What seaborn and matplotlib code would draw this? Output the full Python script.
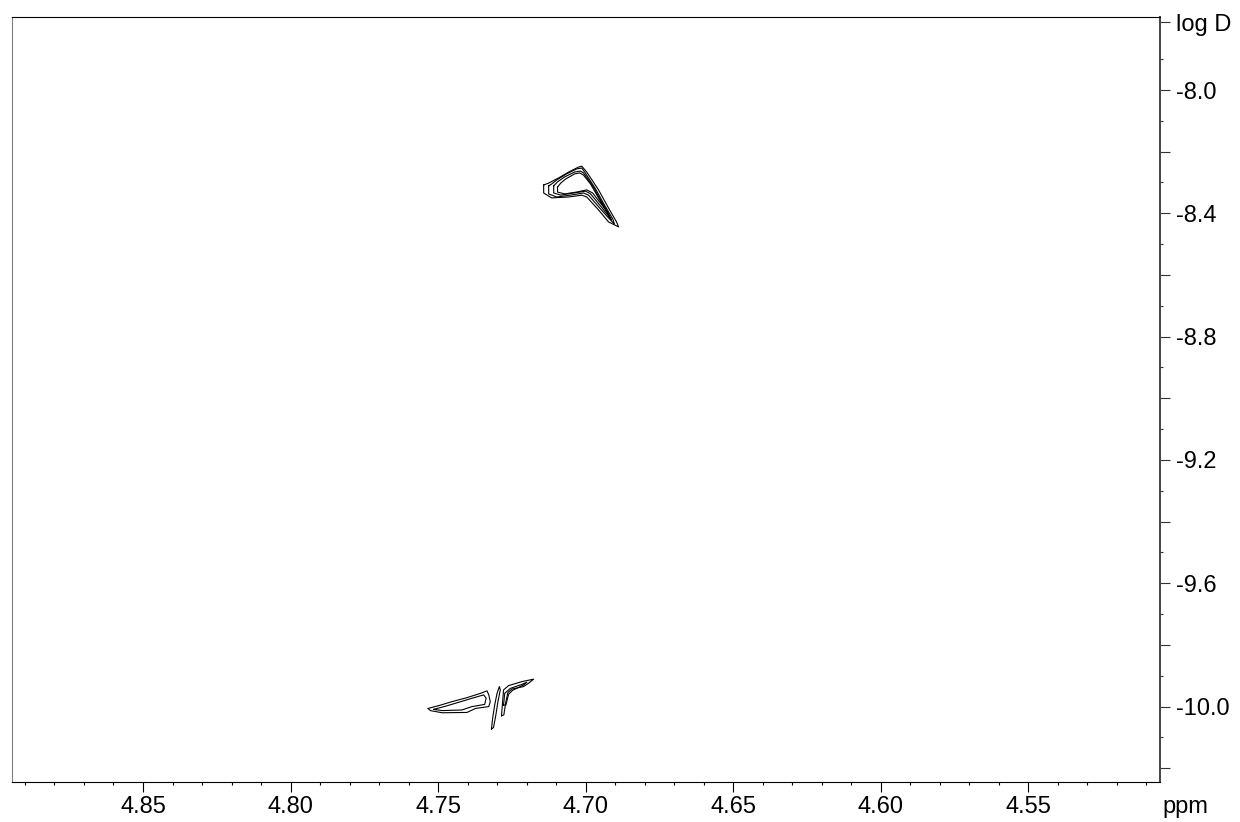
import numpy as np
import pandas as pd
import matplotlib
matplotlib.use("Agg")
import matplotlib.pyplot as plt
from matplotlib.ticker import MultipleLocator, FixedLocator, FixedFormatter
import seaborn as sns

# traced contour outlines of the DOSY peaks (chemical shift in ppm, log D)
upper_c1_ppm = [4.7142, 4.7142, 4.7115, 4.7057, 4.7013, 4.6996, 4.6956, 4.6922, 4.6888,
                4.6895, 4.6922, 4.6956, 4.6996, 4.7013, 4.7024, 4.7057, 4.7091, 4.7125]
upper_c1_logd = [-8.308, -8.334, -8.350, -8.347, -8.341, -8.347, -8.389, -8.428, -8.444,
                 -8.428, -8.383, -8.324, -8.266, -8.247, -8.250, -8.266, -8.285, -8.302]
upper_c2_ppm = [4.7125, 4.7125, 4.7098, 4.7051, 4.7007, 4.6990, 4.6949, 4.6919, 4.6902,
                4.6908, 4.6936, 4.6966, 4.7003, 4.7013, 4.7030, 4.7064, 4.7098, 4.7115]
upper_c2_logd = [-8.311, -8.337, -8.347, -8.341, -8.334, -8.341, -8.386, -8.418, -8.435,
                 -8.418, -8.373, -8.321, -8.266, -8.253, -8.256, -8.272, -8.292, -8.305]
upper_c3_ppm = [4.7108, 4.7108, 4.7084, 4.7040, 4.7000, 4.6983, 4.6946, 4.6922, 4.6912,
                4.6922, 4.6949, 4.6976, 4.7007, 4.7017, 4.7037, 4.7071, 4.7095]
upper_c3_logd = [-8.311, -8.334, -8.341, -8.334, -8.328, -8.337, -8.380, -8.409, -8.422,
                 -8.402, -8.357, -8.311, -8.269, -8.263, -8.266, -8.282, -8.298]
upper_c4_ppm = [4.7095, 4.7095, 4.7071, 4.7030, 4.6996, 4.6976, 4.6942, 4.6925, 4.6919,
                4.6929, 4.6956, 4.6983, 4.7007, 4.7020, 4.7037, 4.7068, 4.7084]
upper_c4_logd = [-8.315, -8.331, -8.337, -8.331, -8.324, -8.334, -8.376, -8.399, -8.412,
                 -8.392, -8.350, -8.305, -8.276, -8.269, -8.272, -8.289, -8.302]

wedge_c1_ppm = [4.7534, 4.7498, 4.7453, 4.7402, 4.7356, 4.7334, 4.7328, 4.7323, 4.7328,
                4.7373, 4.7402, 4.7486, 4.7526]
wedge_c1_logd = [-10.006, -9.997, -9.984, -9.971, -9.957, -9.949, -9.962, -9.984, -10.000,
                 -10.006, -10.019, -10.020, -10.013]
wedge_c2_ppm = [4.7515, 4.7475, 4.7430, 4.7385, 4.7345, 4.7337, 4.7342, 4.7385, 4.7419, 4.7486]
wedge_c2_logd = [-10.009, -9.999, -9.986, -9.973, -9.962, -9.973, -9.993, -10.000, -10.011, -10.013]
stroke_ppm = [4.7319, 4.7315, 4.7308, 4.7300, 4.7292, 4.7289, 4.7297, 4.7304, 4.7312]
stroke_logd = [-10.073, -10.038, -9.995, -9.957, -9.935, -9.946, -9.984, -10.027, -10.068]
flag_c1_ppm = [4.7285, 4.7281, 4.7278, 4.7261, 4.7216, 4.7176, 4.7193, 4.7210, 4.7249,
               4.7263, 4.7270, 4.7277]
flag_c1_logd = [-10.030, -9.984, -9.946, -9.932, -9.919, -9.911, -9.924, -9.935, -9.943,
                -9.954, -9.984, -10.027]
flag_c2_ppm = [4.7278, 4.7274, 4.7255, 4.7216, 4.7199, 4.7210, 4.7247, 4.7261, 4.7270]
flag_c2_logd = [-9.995, -9.957, -9.941, -9.928, -9.921, -9.930, -9.947, -9.960, -9.995]

x_ticks = [4.85, 4.80, 4.75, 4.70, 4.65, 4.60, 4.55]
y_ticks = [-10.2, -10.0, -9.8, -9.6, -9.4, -9.2, -9.0, -8.8, -8.6, -8.4, -8.2, -8.0, -7.78]
y_tick_labels = ["", "-10.0", "", "-9.6", "", "-9.2", "", "-8.8", "", "-8.4", "", "-8.0", "log D"]

contours = {
    "upper_1": (upper_c1_ppm, upper_c1_logd),
    "upper_2": (upper_c2_ppm, upper_c2_logd),
    "upper_3": (upper_c3_ppm, upper_c3_logd),
    "upper_4": (upper_c4_ppm, upper_c4_logd),
    "wedge_1": (wedge_c1_ppm, wedge_c1_logd),
    "wedge_2": (wedge_c2_ppm, wedge_c2_logd),
    "stroke": (stroke_ppm, stroke_logd),
    "flag_1": (flag_c1_ppm, flag_c1_logd),
    "flag_2": (flag_c2_ppm, flag_c2_logd),
}

# long table, each outline closed by repeating its first vertex
rows = []
for name, (px, py) in contours.items():
    for i, (a, b) in enumerate(list(zip(px, py)) + [(px[0], py[0])]):
        rows.append({"contour": name, "order": i, "ppm": a, "logD": b})
df = pd.DataFrame(rows)

sns.set_theme(style="white")
plt.rcParams["font.family"] = ["Liberation Sans", "DejaVu Sans"]
plt.rcParams["axes.unicode_minus"] = False

fig = plt.figure(figsize=(12.4, 8.22), dpi=100)
ax = fig.add_axes([12 / 1240, 1 - 782 / 822, 1148 / 1240, 765 / 822])

sns.lineplot(data=df, x="ppm", y="logD", units="contour", estimator=None, sort=False,
             color="black", linewidth=0.8, ax=ax, legend=False)

ax.set_xlim(4.8944, 4.5053)
ax.set_ylim(-10.2446, -7.7632)
ax.set_xlabel("")
ax.set_ylabel("")

ax.xaxis.set_major_locator(FixedLocator(x_ticks))
ax.set_xticklabels([f"{v:.2f}" for v in x_ticks])
ax.xaxis.set_minor_locator(MultipleLocator(0.01))

ax.yaxis.tick_right()
ax.yaxis.set_major_locator(FixedLocator(y_ticks))
ax.yaxis.set_major_formatter(FixedFormatter(y_tick_labels))
ax.yaxis.set_minor_locator(FixedLocator(np.round(np.arange(-10.1, -7.85, 0.2), 2)))

ax.tick_params(axis="x", which="major", direction="out", length=7, width=0.8,
               color="black", labelcolor="black", labelsize=17, pad=3, bottom=True)
ax.tick_params(axis="x", which="minor", direction="out", length=2.4, width=0.8,
               color="black", bottom=True)
ax.tick_params(axis="y", which="major", direction="out", length=7.5, width=0.8,
               color="#333333", labelcolor="black", labelsize=17, pad=4, right=True, left=False)
ax.tick_params(axis="y", which="minor", direction="out", length=2, width=0.8,
               color="#333333", right=True, left=False)

ax.spines["top"].set_color("black")
ax.spines["top"].set_linewidth(0.8)
ax.spines["bottom"].set_color("black")
ax.spines["bottom"].set_linewidth(0.8)
ax.spines["left"].set_color("#808080")
ax.spines["left"].set_linewidth(0.8)
ax.spines["right"].set_color("#444444")
ax.spines["right"].set_linewidth(1.4)

ax.text(1.0218, -0.018, "ppm", transform=ax.transAxes, ha="center", va="top",
        fontsize=17, color="black")

fig.savefig("out.png", dpi=100)
plt.close(fig)
